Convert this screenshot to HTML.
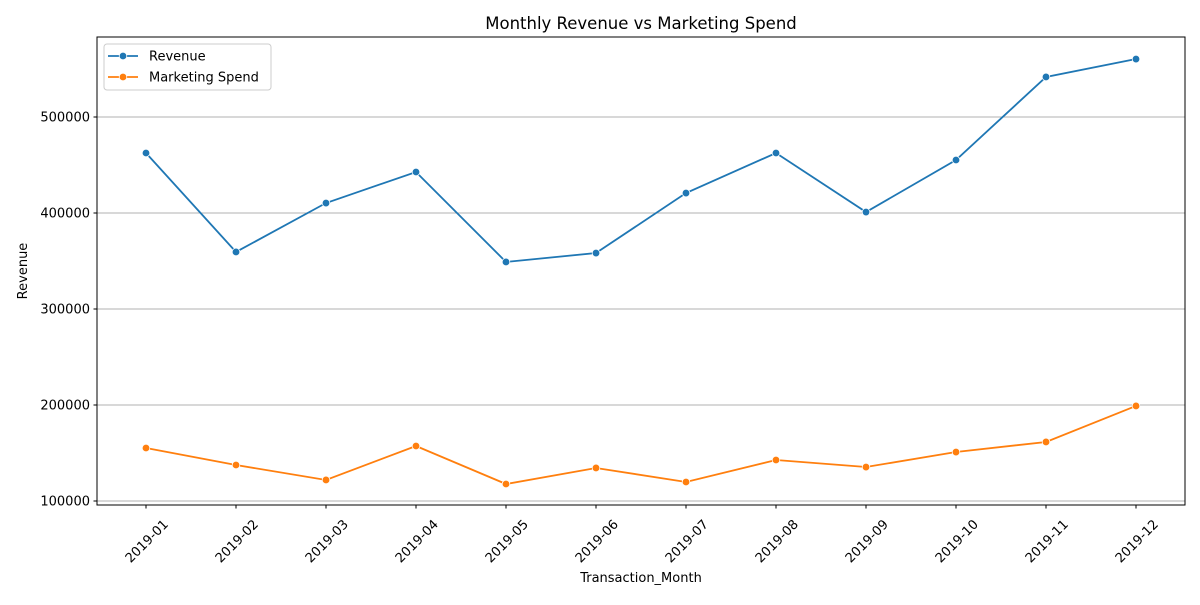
<!DOCTYPE html>
<html><head><meta charset="utf-8"><style>
body{margin:0;background:#fff;}
svg text{font-family:"DejaVu Sans","Liberation Sans",sans-serif;fill:#000;}
</style></head><body>
<svg id="chart" width="1200" height="600" xmlns="http://www.w3.org/2000/svg"></svg>
<script>
const categories=["2019-01","2019-02","2019-03","2019-04","2019-05","2019-06","2019-07","2019-08","2019-09","2019-10","2019-11","2019-12"];
const revenue=[462500,359400,410400,442700,349000,358300,420800,462500,401000,455200,541700,560400];
const marketing=[155200,137500,121900,157300,117700,134400,119800,142700,135400,151000,161500,199000];
const yTicks=[100000,200000,300000,400000,500000];
const NS="http://www.w3.org/2000/svg";
const svg=document.getElementById('chart');
const L=97,R=1185,T=37,B=505;
function x(i){return 146+i*90;}
function y(v){return 501-(v-100000)*0.00096;}
function mk(tag,attrs,parent){const e=document.createElementNS(NS,tag);for(const k in attrs)e.setAttribute(k,attrs[k]);(parent||svg).appendChild(e);return e;}
const grid=mk('g',{});


yTicks.forEach(v=>{
 const l=mk('line',{x1:L,x2:R,y1:y(v),y2:y(v),stroke:'#b0b0b0','stroke-width':1},grid);
 
 
 mk('line',{x1:L-3.5,x2:L,y1:y(v),y2:y(v),stroke:'#000'});
 const t=mk('text',{x:L-7,y:y(v)+4.5,'text-anchor':'end','font-size':13});
 
 
 t.textContent=v;
});
categories.forEach((c,i)=>{
 mk('line',{x1:x(i),x2:x(i),y1:B,y2:B+3.5,stroke:'#000'});
 const t=mk('text',{transform:`translate(${x(i)+23},${B+20}) rotate(-45)`,'text-anchor':'end','font-size':13});
 
 
 t.textContent=c;
});
function series(vals,color,name){
 const g=mk('g',{});
 
 
 mk('polyline',{points:vals.map((v,i)=>x(i)+','+y(v)).join(' '),fill:'none',stroke:color,'stroke-width':1.8},g);
 vals.forEach((v,i)=>{
  const c=mk('circle',{cx:x(i),cy:y(v),r:3.8,fill:color,stroke:'#fff','stroke-width':0.75},g);
  
  
 });
}
series(revenue,'#1f77b4','revenue-series');
series(marketing,'#ff7f0e','marketing-spend-series');
const frame=mk('rect',{x:L,y:T,width:R-L,height:B-T,fill:'none',stroke:'#000','stroke-width':1});


const title=mk('text',{x:(L+R)/2,y:29,'text-anchor':'middle','font-size':16.5});


title.textContent='Monthly Revenue vs Marketing Spend';
const xt=mk('text',{x:(L+R)/2,y:582,'text-anchor':'middle','font-size':13});


xt.textContent='Transaction_Month';
const yt=mk('text',{transform:'translate(27,271) rotate(-90)','text-anchor':'middle','font-size':13});


yt.textContent='Revenue';
const lg=mk('g',{});


mk('rect',{x:104,y:44,width:167,height:46,rx:3,fill:'#fff',stroke:'#ccc'},lg);
[['Revenue','#1f77b4',56],['Marketing Spend','#ff7f0e',77]].forEach(([n,c,yy])=>{
 const e=mk('g',{},lg);
 
 
 mk('line',{x1:108,x2:138,y1:yy,y2:yy,stroke:c,'stroke-width':1.8},e);
 mk('circle',{cx:123,cy:yy,r:3.8,fill:c,stroke:'#fff','stroke-width':0.75},e);
 const t=mk('text',{x:149,y:yy+4.5,'font-size':13},e);
 t.textContent=n;
});
</script>
</body></html>
